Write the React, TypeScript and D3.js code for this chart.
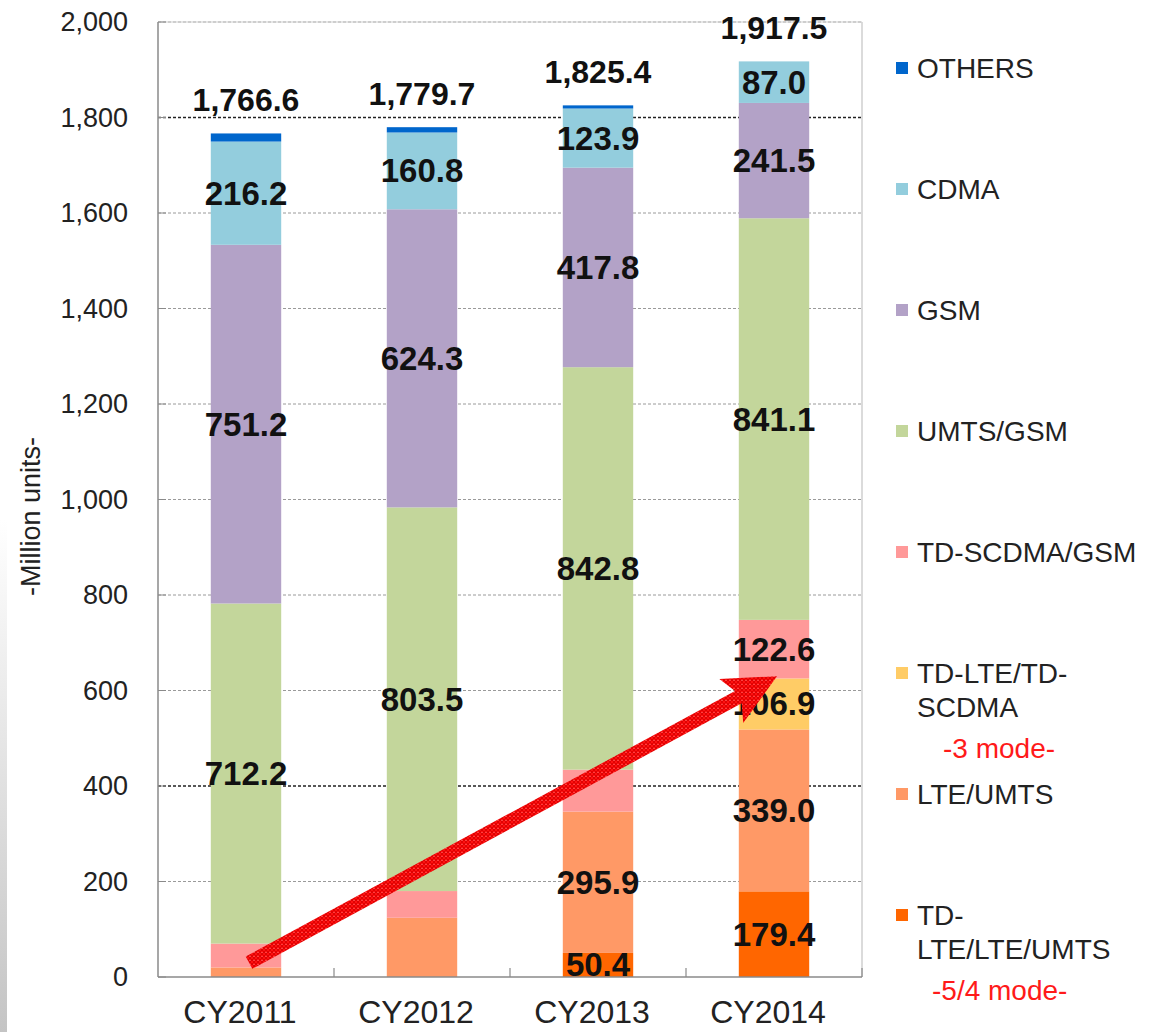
import React from "react";
import * as d3 from "d3";

const years = ["CY2011", "CY2012", "CY2013", "CY2014"];
const seriesKeys = [
  "TD-LTE/LTE/UMTS",
  "LTE/UMTS",
  "TD-LTE/TD-SCDMA",
  "TD-SCDMA/GSM",
  "UMTS/GSM",
  "GSM",
  "CDMA",
  "OTHERS",
];
// values per series (bottom to top), one per year
const tdLteLteUmts = [0, 0, 50.4, 179.4];
const lteUmts = [20, 124, 295.9, 339.0];
const tdLteTdScdma = [0, 0, 0, 106.9];
const tdScdmaGsm = [50, 56, 88, 122.6];
const umtsGsm = [712.2, 803.5, 842.8, 841.1];
const gsm = [751.2, 624.3, 417.8, 241.5];
const cdma = [216.2, 160.8, 123.9, 87.0];
const others = [17, 11.1, 6.6, 0];
const totals = [1766.6, 1779.7, 1825.4, 1917.5];
// whether a segment carries a printed value label
const labelled = {
  "TD-LTE/LTE/UMTS": [false, false, true, true],
  "LTE/UMTS": [false, false, true, true],
  "TD-LTE/TD-SCDMA": [false, false, false, true],
  "TD-SCDMA/GSM": [false, false, false, true],
  "UMTS/GSM": [true, true, true, true],
  GSM: [true, true, true, true],
  CDMA: [true, true, true, true],
  OTHERS: [false, false, false, false],
};
const colors = ["#FF6600", "#FF9966", "#FFCC66", "#FF9999", "#C3D69B", "#B3A2C7", "#93CDDD", "#0066CC"];
const yTicks = [0, 200, 400, 600, 800, 1000, 1200, 1400, 1600, 1800, 2000];
const emphasisTicks = [400, 1800];
const legendItems = [
  { key: "OTHERS", lines: ["OTHERS"], note: "" },
  { key: "CDMA", lines: ["CDMA"], note: "" },
  { key: "GSM", lines: ["GSM"], note: "" },
  { key: "UMTS/GSM", lines: ["UMTS/GSM"], note: "" },
  { key: "TD-SCDMA/GSM", lines: ["TD-SCDMA/GSM"], note: "" },
  { key: "TD-LTE/TD-SCDMA", lines: ["TD-LTE/TD-", "SCDMA"], note: "-3 mode-" },
  { key: "LTE/UMTS", lines: ["LTE/UMTS"], note: "" },
  { key: "TD-LTE/LTE/UMTS", lines: ["TD-", "LTE/LTE/UMTS"], note: "-5/4 mode-" },
];
// arrow annotation: from CY2011 at value 30 to CY2014 at value 630
const arrowFrom = { year: "CY2011", value: 30 };
const arrowTo = { year: "CY2014", value: 630 };

const seriesValues = [tdLteLteUmts, lteUmts, tdLteTdScdma, tdScdmaGsm, umtsGsm, gsm, cdma, others];

export default function App() {
  const W = 1155, H = 1032;
  const left = 158, right = 862, top = 22, bottom = 977;
  const x = d3.scaleBand().domain(years).range([left, right]).paddingInner(0.6).paddingOuter(0.3);
  const y = d3.scaleLinear().domain([0, 2000]).range([bottom, top]);
  const rows = years.map((yr, i) => {
    const r: any = { year: yr };
    seriesKeys.forEach((k, j) => (r[k] = seriesValues[j][i]));
    return r;
  });
  const stacked = d3.stack().keys(seriesKeys)(rows);
  const fmt = d3.format(",.1f");
  const font = "Liberation Sans, Arial, sans-serif";

  // arrow geometry
  const p0 = [x(arrowFrom.year)! + x.bandwidth() / 2 + 3, y(arrowFrom.value)];
  const p1 = [x(arrowTo.year)! + x.bandwidth() / 2 + 3, y(arrowTo.value)];
  const dx = p1[0] - p0[0], dy = p1[1] - p0[1];
  const len = Math.hypot(dx, dy);
  const u = [dx / len, dy / len];
  const n = [-u[1], u[0]];
  const headLen = 52, headHalf = 25, shaftHalf = 7;
  const base = [p1[0] - u[0] * headLen, p1[1] - u[1] * headLen];
  const pt = (p: number[], a: number, b: number) => `${p[0] + u[0] * a + n[0] * b},${p[1] + u[1] * a + n[1] * b}`;
  const arrowPts = [
    pt(p0, 0, -shaftHalf),
    pt(base, 8, -shaftHalf),
    pt(base, 0, -headHalf),
    pt(p1, 0, 0),
    pt(base, 0, headHalf),
    pt(base, 8, shaftHalf),
    pt(p0, 0, shaftHalf),
  ].join(" ");

  return (
    <svg width={W} height={H} style={{ position: "absolute", left: 0, top: 0, background: "#fff" }} fontFamily={font}>
      <defs>
        <linearGradient id="edge" x1="0" y1="0" x2="0" y2="1">
          <stop offset="0" stopColor="#ffffff" />
          <stop offset="1" stopColor="#c4c4c4" />
        </linearGradient>
        <pattern id="hatch" width="4" height="4" patternUnits="userSpaceOnUse">
          <rect width="4" height="4" fill="#ff1010" />
          <path d="M0,4 L4,0 M0,0 L4,4" stroke="#d40000" strokeWidth="0.8" />
          <rect x="1.5" y="0" width="1" height="1" fill="#ff7070" />
        </pattern>
      </defs>
      <rect x={0} y={520} width={7} height={H - 520} fill="url(#edge)" />

      {/* gridlines */}
      {yTicks.filter((t) => t > 0).map((t) => {
        const emph = emphasisTicks.includes(t);
        return (
          <line key={t} x1={left} x2={right} y1={y(t)} y2={y(t)}
            stroke={emph ? "#222" : "#9a9a9a"} strokeWidth={emph ? 1.3 : 1} strokeDasharray="3,2" />
        );
      })}
      {/* frame */}
      <line x1={left} x2={right} y1={top} y2={top} stroke="#cfcfcf" />
      <line x1={right} x2={right} y1={top} y2={bottom} stroke="#cfcfcf" strokeWidth={1.5} />
      <line x1={left} x2={left} y1={top} y2={bottom} stroke="#8a8a8a" strokeWidth={1.5} />
      {yTicks.map((t) => (
        <line key={"yt" + t} x1={left} x2={left + 8} y1={y(t)} y2={y(t)} stroke="#8a8a8a" />
      ))}

      {/* bars */}
      {stacked.map((s, j) => (
        <g key={s.key} fill={colors[j]}>
          {s.map((d, i) =>
            d[1] - d[0] > 0 ? (
              <rect key={i} x={x(years[i])} width={x.bandwidth()} y={y(d[1])} height={y(d[0]) - y(d[1])} />
            ) : null
          )}
        </g>
      ))}

      {/* bottom axis */}
      <line x1={left} x2={right} y1={bottom} y2={bottom} stroke="#8a8a8a" strokeWidth={1.5} />
      {years.map((yr, i) => {
        const bx = x(yr)! + x.bandwidth() / 2 + x.step() / 2;
        return <line key={"xt" + i} x1={bx} x2={bx} y1={bottom} y2={bottom - 9} stroke="#8a8a8a" strokeWidth={1.2} />;
      })}

      {/* segment labels */}
      {stacked.map((s) =>
        s.map((d, i) =>
          (labelled as any)[s.key][i] ? (
            <text key={s.key + i} x={x(years[i])! + x.bandwidth() / 2} y={(y(d[0]) + y(d[1])) / 2}
              textAnchor="middle" dominantBaseline="central" fontSize={33} fontWeight="bold" fill="#111">
              {fmt(d[1] - d[0])}
            </text>
          ) : null
        )
      )}
      {/* totals */}
      {totals.map((t, i) => (
        <text key={"tot" + i} x={x(years[i])! + x.bandwidth() / 2} y={y(t) - 22}
          textAnchor="middle" fontSize={32} fontWeight="bold" fill="#111">
          {fmt(t)}
        </text>
      ))}

      {/* y tick labels */}
      {yTicks.map((t) => (
        <text key={"yl" + t} x={128} y={y(t)} textAnchor="end" dominantBaseline="central" fontSize={27} fill="#222">
          {d3.format(",")(t)}
        </text>
      ))}
      <text transform={`translate(31,${(top + bottom) / 2 + 17}) rotate(-90)`} textAnchor="middle"
        dominantBaseline="central" fontSize={27} fill="#222">-Million units-</text>

      {/* x labels */}
      {years.map((yr) => (
        <text key={yr} x={x(yr)! + x.bandwidth() / 2 - 6} y={1012} textAnchor="middle" dominantBaseline="central"
          fontSize={32} fill="#222">{yr}</text>
      ))}

      {/* arrow */}
      <polygon points={arrowPts} fill="url(#hatch)" />

      {/* legend */}
      {legendItems.map((it, i) => {
        const cy = 68 + i * 121;
        const ci = seriesKeys.indexOf(it.key);
        return (
          <g key={it.key}>
            <rect x={896} y={cy - 6} width={12} height={12} fill={colors[ci]} />
            {it.lines.map((ln, k) => (
              <text key={k} x={917} y={cy + k * 34} dominantBaseline="central" fontSize={28} fill="#222">{ln}</text>
            ))}
            {it.note ? (
              <text x={it.note.length > 8 ? 932 : 943} y={cy + 75} dominantBaseline="central" fontSize={28} fill="#ff1a1a">
                {it.note}
              </text>
            ) : null}
          </g>
        );
      })}
    </svg>
  );
}
